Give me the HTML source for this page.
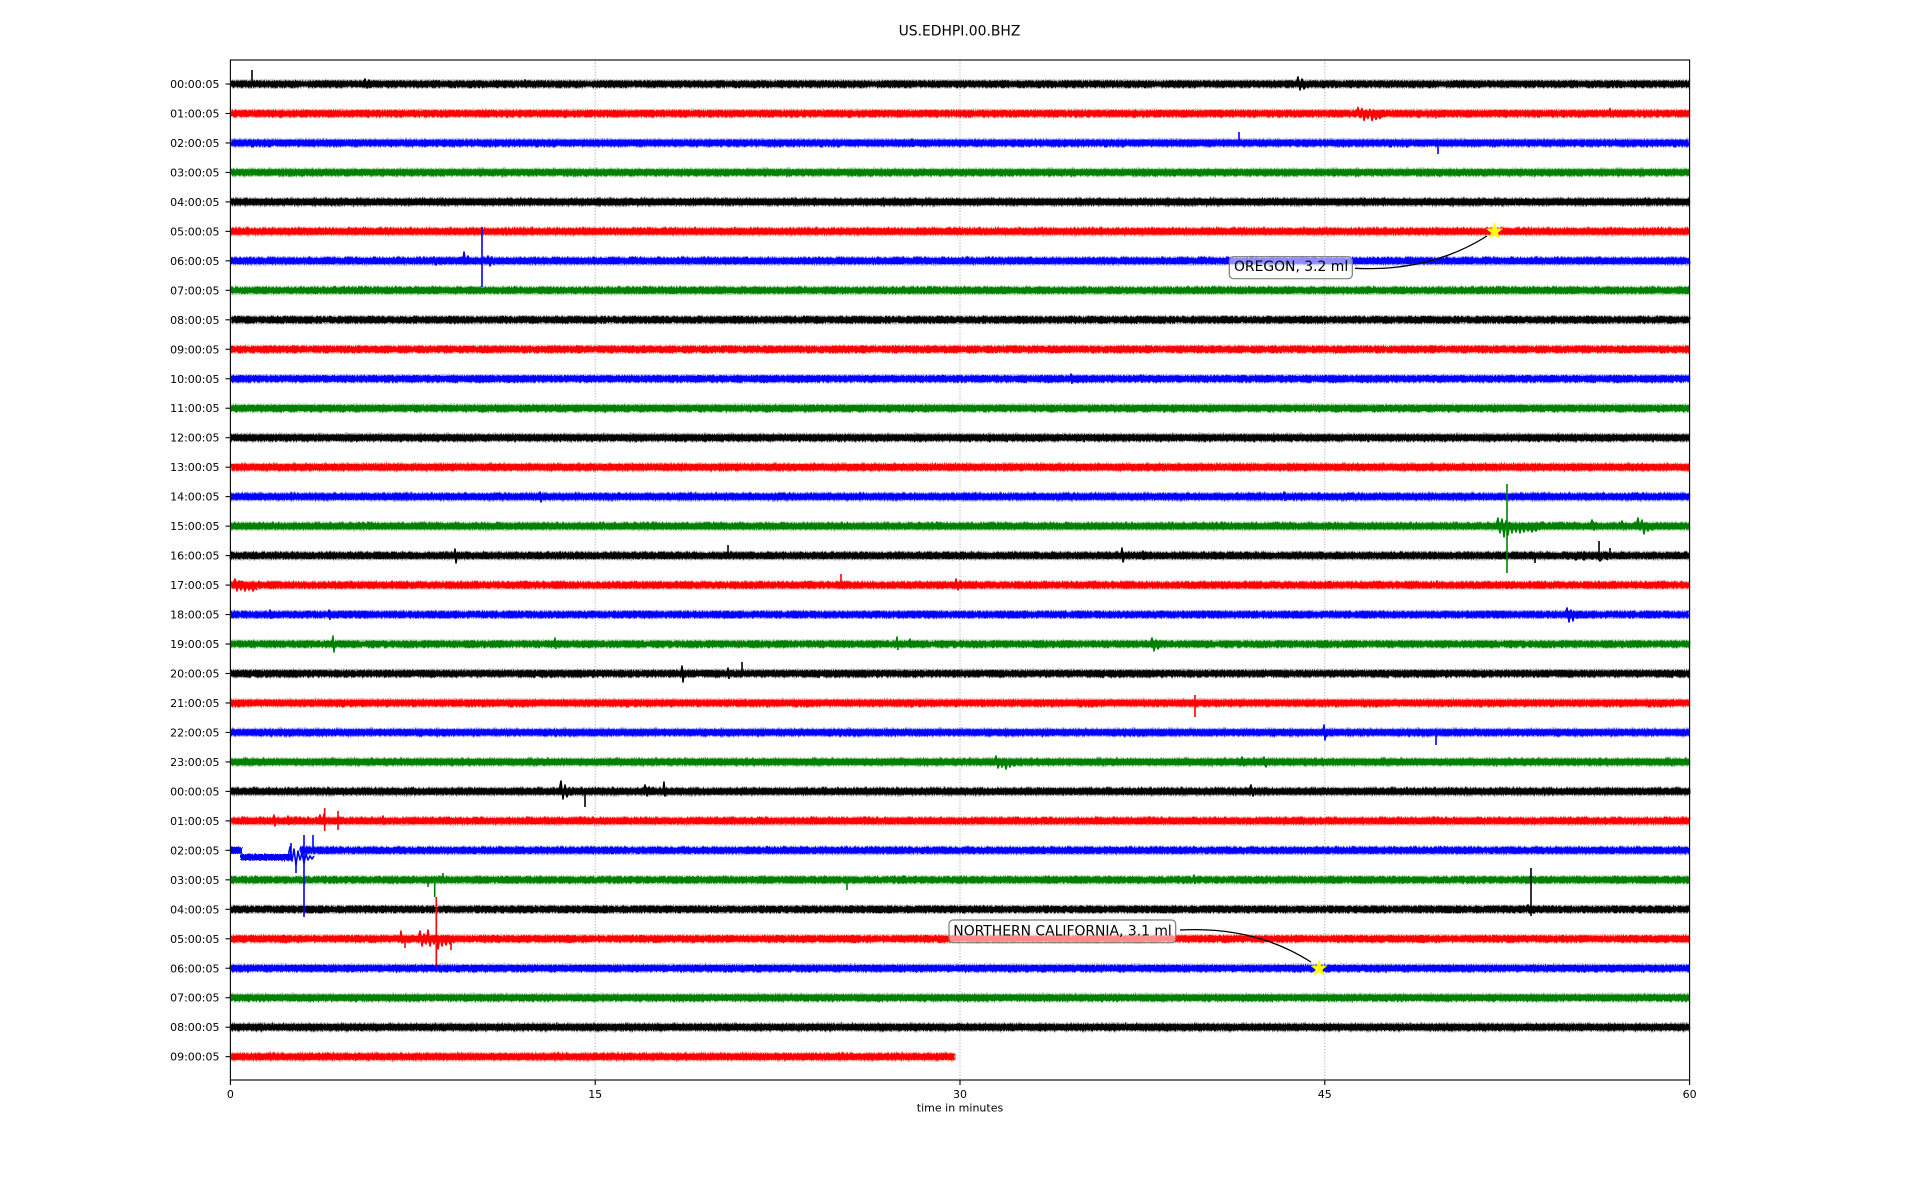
<!DOCTYPE html>
<html>
<head>
<meta charset="utf-8">
<style>
html,body{margin:0;padding:0;background:#fff;}
svg{display:block;}
text{font-family:"DejaVu Sans","Liberation Sans",sans-serif;fill:#000;}
.k{fill:#000}.r{fill:#f00}.b{fill:#00f}.g{fill:#008000}
.ks{stroke:#000}.rs{stroke:#f00}.bs{stroke:#00f}.gs{stroke:#008000}
.ev path{fill:none;stroke-width:1.6;stroke-linejoin:round}
.halo rect{opacity:.3}
</style>
</head>
<body>
<svg width="1920" height="1200" viewBox="0 0 1920 1200" xmlns="http://www.w3.org/2000/svg">
<defs>
<filter id="jit" filterUnits="userSpaceOnUse" x="0" y="0" width="1920" height="1200">
<feTurbulence type="fractalNoise" baseFrequency="0.9 0.2" numOctaves="1" seed="3" result="n"/>
<feDisplacementMap in="SourceGraphic" in2="n" scale="4" xChannelSelector="R" yChannelSelector="G"/>
</filter>
</defs>
<rect x="0" y="0" width="1920" height="1200" fill="#fff"/>
<text x="959.5" y="35.7" font-size="13.9" text-anchor="middle">US.EDHPI.00.BHZ</text>

<!-- grid -->
<g stroke="#b0b0b0" stroke-width="1.1" stroke-dasharray="1.1 1.8">
<line x1="595.2" y1="60" x2="595.2" y2="1080"/>
<line x1="960" y1="60" x2="960" y2="1080"/>
<line x1="1324.8" y1="60" x2="1324.8" y2="1080"/>
</g>

<g filter="url(#jit)">
<g class="halo">
<rect class="k" x="230.4" y="79.5" width="1459.2" height="9"/>
<rect class="r" x="230.4" y="108.98" width="1459.2" height="9"/>
<rect class="b" x="230.4" y="138.45" width="1459.2" height="9"/>
<rect class="g" x="230.4" y="167.93" width="1459.2" height="9"/>
<rect class="k" x="230.4" y="197.4" width="1459.2" height="9"/>
<rect class="r" x="230.4" y="226.88" width="1459.2" height="9"/>
<rect class="b" x="230.4" y="256.35" width="1459.2" height="9"/>
<rect class="g" x="230.4" y="285.83" width="1459.2" height="9"/>
<rect class="k" x="230.4" y="315.3" width="1459.2" height="9"/>
<rect class="r" x="230.4" y="344.78" width="1459.2" height="9"/>
<rect class="b" x="230.4" y="374.25" width="1459.2" height="9"/>
<rect class="g" x="230.4" y="403.73" width="1459.2" height="9"/>
<rect class="k" x="230.4" y="433.2" width="1459.2" height="9"/>
<rect class="r" x="230.4" y="462.68" width="1459.2" height="9"/>
<rect class="b" x="230.4" y="492.15" width="1459.2" height="9"/>
<rect class="g" x="230.4" y="521.63" width="1459.2" height="9"/>
<rect class="k" x="230.4" y="551.1" width="1459.2" height="9"/>
<rect class="r" x="230.4" y="580.58" width="1459.2" height="9"/>
<rect class="b" x="230.4" y="610.05" width="1459.2" height="9"/>
<rect class="g" x="230.4" y="639.53" width="1459.2" height="9"/>
<rect class="k" x="230.4" y="669" width="1459.2" height="9"/>
<rect class="r" x="230.4" y="698.48" width="1459.2" height="9"/>
<rect class="b" x="230.4" y="727.95" width="1459.2" height="9"/>
<rect class="g" x="230.4" y="757.43" width="1459.2" height="9"/>
<rect class="k" x="230.4" y="786.9" width="1459.2" height="9"/>
<rect class="r" x="230.4" y="816.38" width="1459.2" height="9"/>
<rect class="b" x="300" y="845.85" width="1389.6" height="9"/>
<rect class="g" x="230.4" y="875.33" width="1459.2" height="9"/>
<rect class="k" x="230.4" y="904.8" width="1459.2" height="9"/>
<rect class="r" x="230.4" y="934.28" width="1459.2" height="9"/>
<rect class="b" x="230.4" y="963.75" width="1459.2" height="9"/>
<rect class="g" x="230.4" y="993.23" width="1459.2" height="9"/>
<rect class="k" x="230.4" y="1022.7" width="1459.2" height="9"/>
<rect class="r" x="230.4" y="1052.18" width="725" height="9"/>
</g>

<g>
<rect class="k" x="230.4" y="80.75" width="1459.2" height="6.5"/>
<rect class="r" x="230.4" y="110.23" width="1459.2" height="6.5"/>
<rect class="b" x="230.4" y="139.7" width="1459.2" height="6.5"/>
<rect class="g" x="230.4" y="169.18" width="1459.2" height="6.5"/>
<rect class="k" x="230.4" y="198.65" width="1459.2" height="6.5"/>
<rect class="r" x="230.4" y="228.13" width="1459.2" height="6.5"/>
<rect class="b" x="230.4" y="257.6" width="1459.2" height="6.5"/>
<rect class="g" x="230.4" y="287.08" width="1459.2" height="6.5"/>
<rect class="k" x="230.4" y="316.55" width="1459.2" height="6.5"/>
<rect class="r" x="230.4" y="346.03" width="1459.2" height="6.5"/>
<rect class="b" x="230.4" y="375.5" width="1459.2" height="6.5"/>
<rect class="g" x="230.4" y="404.98" width="1459.2" height="6.5"/>
<rect class="k" x="230.4" y="434.45" width="1459.2" height="6.5"/>
<rect class="r" x="230.4" y="463.93" width="1459.2" height="6.5"/>
<rect class="b" x="230.4" y="493.4" width="1459.2" height="6.5"/>
<rect class="g" x="230.4" y="522.88" width="1459.2" height="6.5"/>
<rect class="k" x="230.4" y="552.35" width="1459.2" height="6.5"/>
<rect class="r" x="230.4" y="581.83" width="1459.2" height="6.5"/>
<rect class="b" x="230.4" y="611.3" width="1459.2" height="6.5"/>
<rect class="g" x="230.4" y="640.78" width="1459.2" height="6.5"/>
<rect class="k" x="230.4" y="670.25" width="1459.2" height="6.5"/>
<rect class="r" x="230.4" y="699.73" width="1459.2" height="6.5"/>
<rect class="b" x="230.4" y="729.2" width="1459.2" height="6.5"/>
<rect class="g" x="230.4" y="758.68" width="1459.2" height="6.5"/>
<rect class="k" x="230.4" y="788.15" width="1459.2" height="6.5"/>
<rect class="r" x="230.4" y="817.63" width="1459.2" height="6.5"/>
<rect class="b" x="230.4" y="847.1" width="11" height="6.5"/>
<rect class="b" x="240.4" y="847.1" width="2" height="13"/>
<rect class="b" x="241.4" y="854" width="50" height="6.5"/>
<rect class="b" x="300" y="847.1" width="1389.6" height="6.5"/>
<rect class="g" x="230.4" y="876.58" width="1459.2" height="6.5"/>
<rect class="k" x="230.4" y="906.05" width="1459.2" height="6.5"/>
<rect class="r" x="230.4" y="935.53" width="1459.2" height="6.5"/>
<rect class="b" x="230.4" y="965" width="1459.2" height="6.5"/>
<rect class="g" x="230.4" y="994.48" width="1459.2" height="6.5"/>
<rect class="k" x="230.4" y="1023.95" width="1459.2" height="6.5"/>
<rect class="r" x="230.4" y="1053.43" width="725" height="6.5"/>
</g>
</g>

<g class="ev">
<g class="ks">
<path d="M252 84 V70" stroke-width="2"/>
<path d="M363 84 l2 -5 l2 9 l2 -8 l2 7 l2 -4"/>
<path d="M524 84 l1 -4 l1 7"/>
<path d="M1296 84 l2 -7 l2 13 l2 -11 l2 10 l2 -6"/>
</g>
<g class="rs">
<path d="M1356 113.5 l2 -6 l2 10 l2 -9 l2 12 l2 -10 l2 8 l2 -9 l2 11 l2 -7 l2 6 l2 -5 l2 4 l2 -3"/>
<path d="M1434 113.5 l1 -3 l1 8"/>
<path d="M1609 113.5 l1 -5 l1 9"/>
</g>
<g class="bs">
<path d="M1239 143 V132" stroke-width="2"/>
<path d="M1438 143 V154" stroke-width="2"/>
<path d="M911 143 l1 -4 l1 8"/>
</g>
<g class="bs">
<path d="M432 261 l2 -4 l2 8 l2 -7 l2 6 l2 -3"/>
<path d="M463 261 l1 -9 l2 12 l2 -8 l2 6 l2 -4"/>
<path d="M486 261 l2 -5 l2 10 l2 -9 l2 7 l2 -4 l2 3"/>
<path d="M482 227 V287" stroke-width="2.5"/>
</g>
<g class="bs">
<path d="M1070 379 l1 -5 l1 10"/>
<path d="M1140 379 l1 -4 l1 8"/>
<path d="M539 497 l1 -5 l1 10 l1 -6"/>
<path d="M1283 497 l1 -5 l1 9"/>
</g>
<g class="gs">
<path d="M1496 526 l2 -8 l2 15 l2 -14 l2 18 l2 -16 l2 14 l2 -12 l2 10 l2 -9 l2 8 l2 -7 l2 8 l2 -8 l2 7 l2 -6 l2 5 l2 -5 l2 6 l2 -5 l2 4 l2 -4 l2 3"/>
<path d="M1507 484 V573" stroke-width="2.5"/>
<path d="M1540 526 l3 -4 l3 6 l3 -5 l3 4 l3 -4 l3 4 l3 -3 l3 3 l3 -3 l3 4 l3 -3"/>
<path d="M1590 526 l2 -6 l2 10 l2 -7 l2 5"/>
<path d="M1620 526 l2 -5 l2 8 l2 -4"/>
<path d="M1636 526 l2 -8 l2 12 l2 -10 l2 14 l2 -11 l2 8 l2 -6 l2 5 l2 -4"/>
</g>
<g class="ks">
<path d="M454 556 l1 -7 l1 14 l1 -8"/>
<path d="M728 556 V545" stroke-width="2"/>
<path d="M1121 556 l1 -8 l1 14 l1 -6"/>
<path d="M1142 556 l1 -5 l1 9"/>
<path d="M1599 556 V541" stroke-width="2"/>
<path d="M1610 556 V548"/>
<path d="M1535 556 V563" stroke-width="2"/>
<path d="M1560 556 l4 -4 l4 7 l4 -5 l4 6 l4 -5 l4 5 l4 -6 l4 5 l4 -4 l4 6 l4 -5 l4 4"/>
</g>
<g class="rs">
<path d="M233 585 l2 -6 l2 12 l2 -10 l2 9 l2 -7 l2 8 l2 -6 l2 5 l2 -5 l2 6 l2 -4 l2 3"/>
<path d="M841 585 V574" stroke-width="2"/>
<path d="M955 585 l1 -6 l2 11 l2 -9 l2 7 l1 -4"/>
<path d="M1436 585 l1 -4 l1 7"/>
</g>
<g class="bs">
<path d="M269 615 l1 -5 l1 9"/>
<path d="M328 615 l1 -5 l1 10"/>
<path d="M1565 615 l2 -7 l2 14 l2 -12 l2 11 l2 -9 l2 6 l2 -4"/>
</g>
<g class="gs">
<path d="M332 644 l1 -8 l1 16 l1 -9"/>
<path d="M554 644 l1 -6 l1 11"/>
<path d="M896 644 l1 -7 l1 13"/>
<path d="M909 644 l1 -5 l1 9"/>
<path d="M1150 644 l2 -6 l2 13 l2 -11 l2 9 l2 -8 l2 6"/>
</g>
<g class="ks">
<path d="M681 674 l1 -8 l1 16 l1 -8"/>
<path d="M727 674 l1 -6 l1 11"/>
<path d="M742 674 V662" stroke-width="2"/>
<path d="M755 674 l1 -3 l1 5"/>
</g>
<path class="rs" d="M1195 695 V717" stroke-width="2"/>
<g class="bs">
<path d="M1323 733 l1 -8 l1 15 l1 -8"/>
<path d="M1436 733 V745" stroke-width="2"/>
</g>
<g class="gs">
<path d="M994 762 l2 -6 l2 12 l2 -9 l2 8 l2 -7 l2 9 l2 -8 l2 6 l2 -6 l2 5 l2 -5 l2 4 l2 -3 l2 3"/>
<path d="M1240 762 l2 -5 l2 9 l2 -6 l2 5"/>
<path d="M1262 762 l2 -5 l2 10 l2 -7 l2 4"/>
</g>
<g class="ks">
<path d="M559 791 l2 -10 l2 18 l2 -14 l2 12 l2 -9 l2 7 l2 -5"/>
<path d="M585 791 V807" stroke-width="2"/>
<path d="M643 791 l2 -6 l2 11 l2 -9 l2 7 l2 -6 l2 5"/>
<path d="M663 791 l1 -9 l1 14 l1 -6"/>
<path d="M1249 791 l2 -6 l2 11 l2 -8 l2 5"/>
</g>
<g class="rs">
<path d="M273 821 l1 -6 l1 11 l1 -6"/>
<path d="M287 821 l1 -5 l1 9"/>
<path d="M318 821 l2 -6 l2 9 l2 -10 l2 8 l2 -4"/>
<path d="M324.7 808 V831" stroke-width="2"/>
<path d="M338 811 V830" stroke-width="1.8"/>
<path d="M382 821 l1 -5 l1 9"/>
</g>
<g class="bs">
<path d="M288 857 l2 -10 l2 14 l2 -12 l2 16 l2 -14 l2 9 l2 -7 l2 10 l2 -9 l2 6 l2 -4 l2 3 l2 -3"/>
<path d="M291 843 V860" stroke-width="2"/>
<path d="M296 860 V873" stroke-width="2"/>
<path d="M304 835 V917" stroke-width="2.5"/>
<path d="M313 835 V852" stroke-width="2"/>
</g>
<g class="gs">
<path d="M428 880 V887" stroke-width="2"/>
<path d="M434.7 880 V897" stroke-width="2"/>
<path d="M443 873 V880" stroke-width="2"/>
<path d="M847 880 V890" stroke-width="2"/>
<path d="M903 880 l1 -4 l1 7"/>
<path d="M1193 880 l1 -5 l1 9"/>
</g>
<g class="ks">
<path d="M1531 868 V916" stroke-width="2"/>
<path d="M1526 909 l2 -4 l2 8 l2 -6 l2 6 l2 -5 l2 4"/>
</g>
<g class="rs">
<path d="M400 939 l1 -8 l1 12 l1 -5"/>
<path d="M405 939 V948" stroke-width="2"/>
<path d="M418 939 l2 -8 l2 15 l2 -12 l2 10 l2 -14 l2 16 l2 -10 l2 8 l2 -9 l2 14 l2 -12 l2 9 l2 -8 l2 7 l2 -6 l2 5 l2 -4 l2 3"/>
<path d="M436.3 897 V965" stroke-width="2.5"/>
<path d="M451 939 V950" stroke-width="2"/>
</g>
</g>

<rect x="230.4" y="60" width="1459.2" height="1020" fill="none" stroke="#000" stroke-width="1.1"/>

<g stroke="#000" stroke-width="1.1">
<line x1="230.4" y1="1080" x2="230.4" y2="1085"/>
<line x1="595.2" y1="1080" x2="595.2" y2="1085"/>
<line x1="960" y1="1080" x2="960" y2="1085"/>
<line x1="1324.8" y1="1080" x2="1324.8" y2="1085"/>
<line x1="1689.6" y1="1080" x2="1689.6" y2="1085"/>
</g>
<g font-size="11" text-anchor="middle">
<text x="230.4" y="1098">0</text>
<text x="595.2" y="1098">15</text>
<text x="960" y="1098">30</text>
<text x="1324.8" y="1098">45</text>
<text x="1689.6" y="1098">60</text>
</g>
<text x="960" y="1111.7" font-size="11" text-anchor="middle">time in minutes</text>

<g stroke="#000" stroke-width="1.1">
<line x1="225.5" y1="84" x2="230.4" y2="84"/>
<line x1="225.5" y1="113.48" x2="230.4" y2="113.48"/>
<line x1="225.5" y1="142.95" x2="230.4" y2="142.95"/>
<line x1="225.5" y1="172.43" x2="230.4" y2="172.43"/>
<line x1="225.5" y1="201.9" x2="230.4" y2="201.9"/>
<line x1="225.5" y1="231.38" x2="230.4" y2="231.38"/>
<line x1="225.5" y1="260.85" x2="230.4" y2="260.85"/>
<line x1="225.5" y1="290.33" x2="230.4" y2="290.33"/>
<line x1="225.5" y1="319.8" x2="230.4" y2="319.8"/>
<line x1="225.5" y1="349.28" x2="230.4" y2="349.28"/>
<line x1="225.5" y1="378.75" x2="230.4" y2="378.75"/>
<line x1="225.5" y1="408.23" x2="230.4" y2="408.23"/>
<line x1="225.5" y1="437.7" x2="230.4" y2="437.7"/>
<line x1="225.5" y1="467.18" x2="230.4" y2="467.18"/>
<line x1="225.5" y1="496.65" x2="230.4" y2="496.65"/>
<line x1="225.5" y1="526.13" x2="230.4" y2="526.13"/>
<line x1="225.5" y1="555.6" x2="230.4" y2="555.6"/>
<line x1="225.5" y1="585.08" x2="230.4" y2="585.08"/>
<line x1="225.5" y1="614.55" x2="230.4" y2="614.55"/>
<line x1="225.5" y1="644.03" x2="230.4" y2="644.03"/>
<line x1="225.5" y1="673.5" x2="230.4" y2="673.5"/>
<line x1="225.5" y1="702.98" x2="230.4" y2="702.98"/>
<line x1="225.5" y1="732.45" x2="230.4" y2="732.45"/>
<line x1="225.5" y1="761.93" x2="230.4" y2="761.93"/>
<line x1="225.5" y1="791.4" x2="230.4" y2="791.4"/>
<line x1="225.5" y1="820.88" x2="230.4" y2="820.88"/>
<line x1="225.5" y1="850.35" x2="230.4" y2="850.35"/>
<line x1="225.5" y1="879.83" x2="230.4" y2="879.83"/>
<line x1="225.5" y1="909.3" x2="230.4" y2="909.3"/>
<line x1="225.5" y1="938.78" x2="230.4" y2="938.78"/>
<line x1="225.5" y1="968.25" x2="230.4" y2="968.25"/>
<line x1="225.5" y1="997.73" x2="230.4" y2="997.73"/>
<line x1="225.5" y1="1027.2" x2="230.4" y2="1027.2"/>
<line x1="225.5" y1="1056.68" x2="230.4" y2="1056.68"/>
</g>
<g font-size="11" text-anchor="end">
<text x="219.5" y="88">00:00:05</text>
<text x="219.5" y="117.48">01:00:05</text>
<text x="219.5" y="146.95">02:00:05</text>
<text x="219.5" y="176.43">03:00:05</text>
<text x="219.5" y="205.9">04:00:05</text>
<text x="219.5" y="235.38">05:00:05</text>
<text x="219.5" y="264.85">06:00:05</text>
<text x="219.5" y="294.33">07:00:05</text>
<text x="219.5" y="323.8">08:00:05</text>
<text x="219.5" y="353.28">09:00:05</text>
<text x="219.5" y="382.75">10:00:05</text>
<text x="219.5" y="412.23">11:00:05</text>
<text x="219.5" y="441.7">12:00:05</text>
<text x="219.5" y="471.18">13:00:05</text>
<text x="219.5" y="500.65">14:00:05</text>
<text x="219.5" y="530.13">15:00:05</text>
<text x="219.5" y="559.6">16:00:05</text>
<text x="219.5" y="589.08">17:00:05</text>
<text x="219.5" y="618.55">18:00:05</text>
<text x="219.5" y="648.03">19:00:05</text>
<text x="219.5" y="677.5">20:00:05</text>
<text x="219.5" y="706.98">21:00:05</text>
<text x="219.5" y="736.45">22:00:05</text>
<text x="219.5" y="765.93">23:00:05</text>
<text x="219.5" y="795.4">00:00:05</text>
<text x="219.5" y="824.88">01:00:05</text>
<text x="219.5" y="854.35">02:00:05</text>
<text x="219.5" y="883.83">03:00:05</text>
<text x="219.5" y="913.3">04:00:05</text>
<text x="219.5" y="942.78">05:00:05</text>
<text x="219.5" y="972.25">06:00:05</text>
<text x="219.5" y="1001.73">07:00:05</text>
<text x="219.5" y="1031.2">08:00:05</text>
<text x="219.5" y="1060.68">09:00:05</text>
</g>

<path d="M1355 268.3 Q1430 272 1487 236" fill="none" stroke="#000" stroke-width="1.3"/>
<path d="M1180 930 Q1255 926 1311 962" fill="none" stroke="#000" stroke-width="1.3"/>
<rect x="1229.3" y="256.7" width="123" height="22" rx="4" ry="4" fill="#fff" fill-opacity="0.55" stroke="#7a7a7a" stroke-width="1.2"/>
<text x="1234" y="270.8" font-size="13.9">OREGON, 3.2 ml</text>
<rect x="949" y="920" width="226.7" height="22.7" rx="4" ry="4" fill="#fff" fill-opacity="0.55" stroke="#7a7a7a" stroke-width="1.2"/>
<text x="953.3" y="935.5" font-size="13.9">NORTHERN CALIFORNIA, 3.1 ml</text>

<polygon transform="translate(1494.5 231.5)" fill="#ffff00" points="0,-9 2.17,-2.99 8.56,-2.78 3.52,1.14 5.29,7.28 0,3.7 -5.29,7.28 -3.52,1.14 -8.56,-2.78 -2.17,-2.99"/>
<polygon transform="translate(1319 968.5)" fill="#ffff00" points="0,-9 2.17,-2.99 8.56,-2.78 3.52,1.14 5.29,7.28 0,3.7 -5.29,7.28 -3.52,1.14 -8.56,-2.78 -2.17,-2.99"/>
</svg>
</body>
</html>
